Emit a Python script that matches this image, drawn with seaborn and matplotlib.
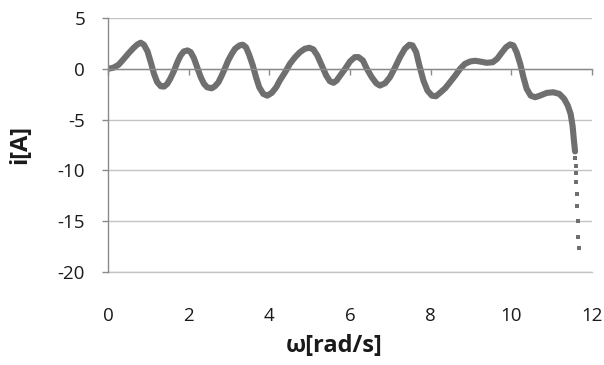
import matplotlib
matplotlib.use("Agg")
import matplotlib.pyplot as plt
import seaborn as sns
import pandas as pd

# ---- data ----
omega = [0.00, 0.13, 0.26, 0.38, 0.50, 0.63, 0.73, 0.81, 0.89, 0.98, 1.06, 1.14, 1.22,
         1.31, 1.39, 1.47, 1.55, 1.64, 1.72, 1.80, 1.88, 1.97, 2.05, 2.13, 2.21, 2.30,
         2.38, 2.46, 2.57, 2.65, 2.74, 2.82, 2.90, 2.98, 3.07, 3.15, 3.26, 3.34, 3.42,
         3.50, 3.59, 3.67, 3.75, 3.85, 3.95, 4.06, 4.17, 4.26, 4.39, 4.51, 4.64, 4.76,
         4.88, 4.99, 5.09, 5.19, 5.30, 5.41, 5.50, 5.59, 5.67, 5.77, 5.88, 6.00, 6.12,
         6.21, 6.32, 6.41, 6.54, 6.65, 6.74, 6.87, 6.99, 7.12, 7.24, 7.36, 7.47, 7.55,
         7.64, 7.72, 7.82, 7.92, 8.03, 8.13, 8.23, 8.36, 8.48, 8.61, 8.73, 8.85, 8.98,
         9.10, 9.22, 9.39, 9.54, 9.65, 9.76, 9.87, 9.97, 10.05, 10.13, 10.22, 10.30,
         10.38, 10.48, 10.59, 10.71, 10.88, 11.04, 11.19, 11.31, 11.40, 11.47, 11.52,
         11.55, 11.58]
current = [0.00, 0.10, 0.39, 0.92, 1.48, 2.04, 2.40, 2.57, 2.37, 1.71, 0.65, -0.49, -1.32,
           -1.72, -1.75, -1.48, -0.93, -0.17, 0.65, 1.31, 1.71, 1.81, 1.64, 1.05, 0.16,
           -0.83, -1.48, -1.82, -1.92, -1.72, -1.32, -0.66, 0.06, 0.82, 1.48, 1.97, 2.30,
           2.37, 2.13, 1.38, 0.33, -0.83, -1.82, -2.47, -2.64, -2.37, -1.82, -1.15, -0.34,
           0.49, 1.15, 1.64, 1.97, 2.07, 1.91, 1.31, 0.33, -0.66, -1.22, -1.38, -1.15,
           -0.59, 0.00, 0.72, 1.15, 1.15, 0.82, 0.06, -0.83, -1.42, -1.65, -1.42, -0.83,
           0.16, 1.15, 1.97, 2.37, 2.30, 1.64, 0.33, -1.15, -2.14, -2.64, -2.70, -2.37,
           -1.91, -1.32, -0.66, 0.00, 0.49, 0.72, 0.79, 0.72, 0.59, 0.65, 0.99, 1.58,
           2.13, 2.40, 2.30, 1.64, 0.49, -0.83, -1.97, -2.64, -2.80, -2.64, -2.37, -2.31,
           -2.47, -2.96, -3.62, -4.44, -5.67, -6.98, -8.13]
tail_omega = [11.58, 11.59, 11.60, 11.60, 11.61, 11.63, 11.64, 11.65, 11.66, 11.67]
tail_current = [-8.19, -8.79, -9.52, -10.27, -11.19, -12.31, -13.49, -14.94, -16.58, -17.61]
x_ticks = [0, 2, 4, 6, 8, 10, 12]
y_ticks = [5, 0, -5, -10, -15, -20]

main_df = pd.DataFrame({"omega": omega, "i": current})
tail_df = pd.DataFrame({"omega": tail_omega, "i": tail_current})

sns.set_theme(style="white")
plt.rcParams["font.family"] = ["Open Sans", "DejaVu Sans"]

curve_col = "#6f6f6f"
axis_col = "#8a8a8a"
grid_col = "#c4c4c4"
text_col = "#1a1a1a"

fig = plt.figure(figsize=(6.04, 3.65), dpi=100)
ax = fig.add_axes([108 / 604, 1 - 272 / 365, 484 / 604, 254 / 365])

sns.lineplot(data=main_df, x="omega", y="i", sort=False, estimator=None, ax=ax,
             color=curve_col, lw=4.4, solid_joinstyle="round", solid_capstyle="round")
sns.scatterplot(data=tail_df, x="omega", y="i", ax=ax, color=curve_col, marker="s",
                s=9, linewidth=0)

ax.set_xlim(0, 12)
ax.set_ylim(-20, 5)
ax.set_xticks(x_ticks)
ax.set_yticks(y_ticks)
ax.set_yticklabels([str(v) for v in y_ticks])
ax.set_xlabel("")

ax.yaxis.grid(True, color=grid_col, lw=1)
ax.set_axisbelow(True)
for s in ["top", "right"]:
    ax.spines[s].set_visible(False)

# horizontal axis line crossing at i = 0, with outward ticks, no labels
ax.spines["bottom"].set_position(("data", 0))
ax.spines["bottom"].set_color(axis_col)
ax.spines["bottom"].set_linewidth(1)
ax.tick_params(axis="x", bottom=True, direction="out", length=4, width=1,
               color=axis_col, labelbottom=False)
ax.spines["left"].set_color(axis_col)
ax.spines["left"].set_linewidth(1)
ax.tick_params(axis="y", left=True, direction="out", length=4.5, width=1, color=axis_col,
               pad=12, labelsize=13.5, labelcolor=text_col)

# tick labels placed low, below the plot area
low = ax.secondary_xaxis("bottom")
low.set_xticks(x_ticks)
low.set_xticklabels([str(v) for v in x_ticks])
low.tick_params(axis="x", length=0, pad=25, labelsize=13.5, labelcolor=text_col)
low.spines["bottom"].set_color(grid_col)
low.spines["bottom"].set_linewidth(1)

fig.text(334 / 604, 1 - 346 / 365, "ω[rad/s]", fontsize=17, fontweight="bold",
         color=text_col, ha="center", va="center")
ax.set_ylabel("i[A]", fontsize=17, fontweight="bold", color=text_col)
ax.yaxis.set_label_coords(-0.157, 0.5)

fig.savefig("out.png", dpi=100)
